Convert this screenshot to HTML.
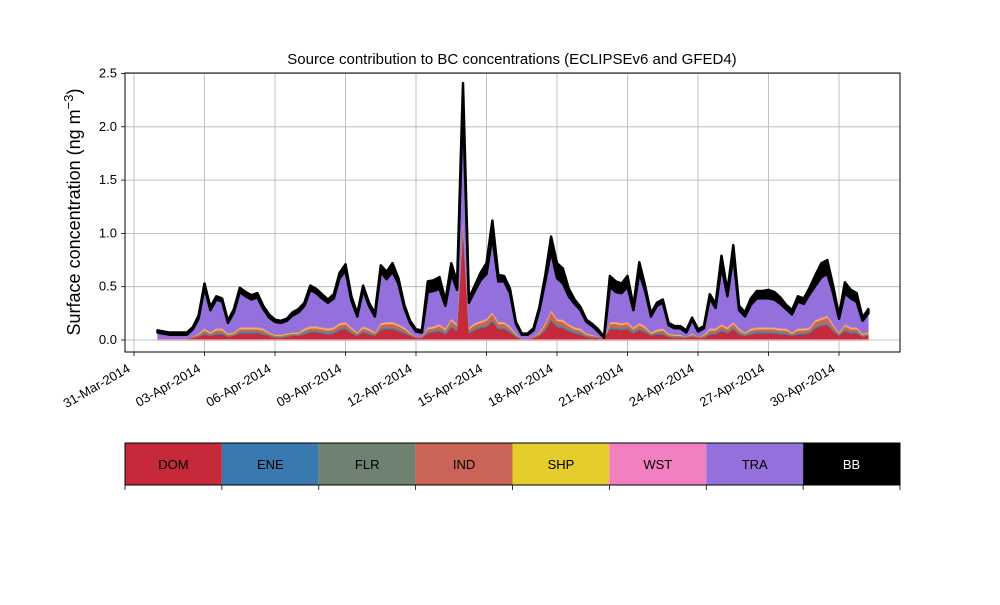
<!DOCTYPE html>
<html><head><meta charset="utf-8"><style>
body{margin:0;background:#fff;}
svg text{font-family:"Liberation Sans","DejaVu Sans",sans-serif;}
</style></head><body>
<svg id="chart" width="1000" height="600" xmlns="http://www.w3.org/2000/svg"></svg>
<script>
const DOM=[.01,.01,.01,.01,.01,.01,.02,.03,.05,.04,.05,.05,.03,.04,.06,.06,.06,.06,.05,.04,.02,.02,.03,.04,.04,.05,.07,.07,.06,.05,.06,.09,.10,.06,.04,.07,.05,.04,.09,.10,.10,.08,.06,.04,.02,.02,.06,.07,.08,.05,.12,.08,1.00,.06,.09,.11,.12,.17,.10,.10,.07,.03,.01,.01,.02,.04,.09,.18,.12,.11,.08,.06,.05,.03,.02,.02,.01,.10,.10,.09,.10,.06,.09,.07,.04,.05,.05,.03,.02,.02,.02,.03,.02,.02,.05,.05,.08,.06,.10,.05,.04,.05,.06,.06,.06,.06,.05,.05,.04,.05,.05,.06,.11,.13,.14,.08,.04,.08,.06,.06,.03,.04];
const ENE=[0,0,0,0,0,0,0,0,.01,0,.01,.01,0,0,.01,.01,.01,.01,.01,0,0,0,0,0,0,.01,.01,.01,.01,.01,.01,.01,.01,.01,0,.01,.01,0,.01,.01,.01,.01,.01,0,0,0,.01,.01,.01,.01,.01,.01,.02,.01,.01,.01,.01,.01,.01,.01,.01,0,0,0,0,0,.01,.01,.01,.01,.01,.01,.01,0,0,0,0,.01,.01,.01,.01,.01,.01,.01,0,.01,.01,0,0,0,0,0,0,0,.01,.01,.01,.01,.01,.01,0,.01,.01,.01,.01,.01,.01,.01,0,.01,.01,.01,.01,.01,.01,.01,0,.01,.01,.01,0,0];
const FLR=[0,0,0,0,0,0,0,.01,.01,.01,.01,.01,.01,.01,.01,.01,.01,.01,.01,.01,.01,.01,.01,.01,.01,.01,.01,.01,.01,.01,.01,.01,.01,.01,.01,.01,.01,.01,.01,.01,.01,.01,.01,.01,0,0,.01,.01,.01,.01,.01,.01,.02,.01,.01,.01,.01,.01,.01,.01,.01,.01,0,0,0,.01,.01,.01,.01,.01,.01,.01,.01,.01,.01,0,0,.01,.01,.01,.01,.01,.01,.01,.01,.01,.01,.01,.01,.01,0,.01,0,.01,.01,.01,.01,.01,.01,.01,.01,.01,.01,.01,.01,.01,.01,.01,.01,.01,.01,.01,.01,.01,.01,.01,.01,.01,.01,.01,.01,.01];
const IND=[0,0,0,0,0,0,.01,.01,.02,.01,.02,.02,.01,.01,.02,.02,.02,.02,.02,.01,.01,.01,.01,.01,.01,.02,.02,.02,.02,.02,.02,.03,.03,.02,.01,.02,.02,.01,.03,.03,.03,.03,.02,.01,.01,.01,.02,.02,.03,.02,.04,.03,.08,.02,.03,.03,.04,.05,.03,.03,.02,.01,0,0,.01,.01,.03,.06,.04,.04,.03,.02,.02,.01,.01,.01,0,.03,.03,.03,.03,.02,.03,.02,.01,.01,.02,.01,.01,.01,.01,.01,.01,.01,.02,.02,.03,.02,.03,.02,.01,.02,.02,.02,.02,.02,.02,.02,.01,.02,.02,.02,.04,.04,.05,.03,.01,.03,.02,.02,.01,.01];
const SHP=FLR.slice();
const WST=ENE.slice();
const TRA=[.06,.05,.04,.04,.04,.04,.07,.14,.38,.21,.27,.25,.10,.19,.33,.29,.26,.28,.18,.14,.12,.11,.12,.16,.19,.21,.34,.31,.27,.24,.27,.42,.48,.25,.15,.34,.21,.15,.48,.40,.47,.38,.18,.09,.05,.04,.33,.33,.33,.21,.42,.32,1.05,.23,.30,.38,.42,.71,.38,.38,.31,.09,.04,.04,.06,.21,.39,.55,.38,.34,.26,.22,.17,.11,.08,.05,.01,.33,.28,.28,.33,.16,.47,.33,.15,.22,.24,.08,.06,.06,.04,.13,.05,.06,.28,.19,.54,.29,.62,.17,.15,.22,.27,.27,.27,.26,.23,.18,.17,.25,.23,.31,.32,.38,.39,.29,.13,.29,.27,.24,.12,.18];
const BB=[.02,.02,.02,.02,.02,.02,.02,.03,.04,.03,.03,.03,.02,.03,.04,.04,.04,.04,.03,.03,.02,.02,.02,.03,.03,.03,.04,.04,.04,.03,.04,.05,.06,.04,.03,.04,.03,.03,.06,.07,.08,.05,.03,.02,.02,.02,.10,.10,.11,.05,.10,.07,.20,.04,.05,.07,.10,.15,.06,.05,.04,.02,.01,.01,.02,.03,.06,.14,.14,.14,.07,.04,.03,.02,.02,.02,.01,.10,.10,.09,.10,.04,.10,.05,.03,.03,.03,.02,.02,.02,.02,.02,.02,.02,.04,.04,.10,.05,.10,.04,.04,.06,.07,.07,.08,.07,.06,.04,.04,.05,.05,.06,.10,.13,.13,.07,.03,.10,.08,.08,.03,.04];
const seriesNames=["DOM","ENE","FLR","IND","SHP","WST","TRA","BB"];
const seriesColors=["#c62a3a","#3a78b0","#6f8170","#c96456","#e6cd2e","#f27fbf","#9370db","#000000"];
const yTicks=[0,0.5,1.0,1.5,2.0,2.5];
const xTickLabels=["31-Mar-2014","03-Apr-2014","06-Apr-2014","09-Apr-2014","12-Apr-2014","15-Apr-2014","18-Apr-2014","21-Apr-2014","24-Apr-2014","27-Apr-2014","30-Apr-2014"];
const xTickDays=[-1,2,5,8,11,14,17,20,23,26,29];
const stepDays=0.25;

const NS="http://www.w3.org/2000/svg";
const svg=document.getElementById('chart');
const L=125,R=900,T=73,B=352;
const xs=d=>157.5+23.5*d;
const ys=v=>340-106.6*v;
function mk(tag,attrs,parent){const e=document.createElementNS(NS,tag);for(const k in attrs)e.setAttribute(k,attrs[k]);(parent||svg).appendChild(e);return e;}

yTicks.forEach(v=>{
  const g=mk('line',{x1:L,x2:R,y1:ys(v),y2:ys(v),stroke:'#b0b0b0','stroke-width':0.8});
  
  
  mk('line',{x1:L-4,x2:L,y1:ys(v),y2:ys(v),stroke:'#000','stroke-width':0.8});
  const t=mk('text',{x:L-8,y:ys(v)+4,'text-anchor':'end','font-size':13});
  t.textContent=v.toFixed(1);
  
  
});
xTickDays.forEach((d,i)=>{
  const x=xs(d);
  const g=mk('line',{x1:x,x2:x,y1:T,y2:B,stroke:'#b0b0b0','stroke-width':0.8});
  
  
  mk('line',{x1:x,x2:x,y1:B,y2:B+4,stroke:'#000','stroke-width':0.8});
  const ax=x-3, ay=B+19;
  const t=mk('text',{x:ax,y:ay,'text-anchor':'end','font-size':13,transform:`rotate(-30 ${ax} ${ay})`});
  t.textContent=xTickLabels[i];
  
  
});

const all=[DOM,ENE,FLR,IND,SHP,WST,TRA,BB];
const n=DOM.length;
let base=new Array(n).fill(0);
all.forEach((arr,si)=>{
  const top=base.map((b,i)=>b+arr[i]);
  let d='';
  for(let i=0;i<n;i++)d+=(i?'L':'M')+xs(i*stepDays).toFixed(1)+','+ys(top[i]).toFixed(1);
  for(let i=n-1;i>=0;i--)d+='L'+xs(i*stepDays).toFixed(1)+','+ys(base[i]).toFixed(1);
  d+='Z';
  const p=mk('path',{d:d,fill:seriesColors[si],stroke:seriesColors[si],'stroke-width':si===7?2.5:0.3,'stroke-linejoin':'round'});
  
  
  base=top;
});
mk('line',{x1:xs(0),x2:xs((n-1)*stepDays),y1:ys(0),y2:ys(0),stroke:'#e8a0a8','stroke-width':1.5});

const fr=mk('rect',{x:L,y:T,width:R-L,height:B-T,fill:'none',stroke:'#000','stroke-width':1});



const ti=mk('text',{x:512,y:64,'text-anchor':'middle','font-size':15});
ti.textContent='Source contribution to BC concentrations (ECLIPSEv6 and GFED4)';


const yl=mk('text',{x:80,y:212,'text-anchor':'middle','font-size':18,transform:'rotate(-90 80 212)'});
yl.innerHTML='Surface concentration (ng m<tspan dy="-7" font-size="13">−3</tspan><tspan dy="7">)</tspan>';



const cw=(R-L)/8;
seriesNames.forEach((nm,i)=>{
  const r=mk('rect',{x:L+i*cw,y:443,width:cw,height:42,fill:seriesColors[i]});
  
  
  const t=mk('text',{x:L+i*cw+cw/2,y:469,'text-anchor':'middle','font-size':13,fill:i===7?'#fff':'#000'});
  t.textContent=nm;
  
  
});
mk('rect',{x:L,y:443,width:R-L,height:42,fill:'none',stroke:'#000','stroke-width':1});
for(let i=0;i<=8;i++)mk('line',{x1:L+i*cw,x2:L+i*cw,y1:485,y2:490,stroke:'#000','stroke-width':0.8});
</script>
</body></html>
